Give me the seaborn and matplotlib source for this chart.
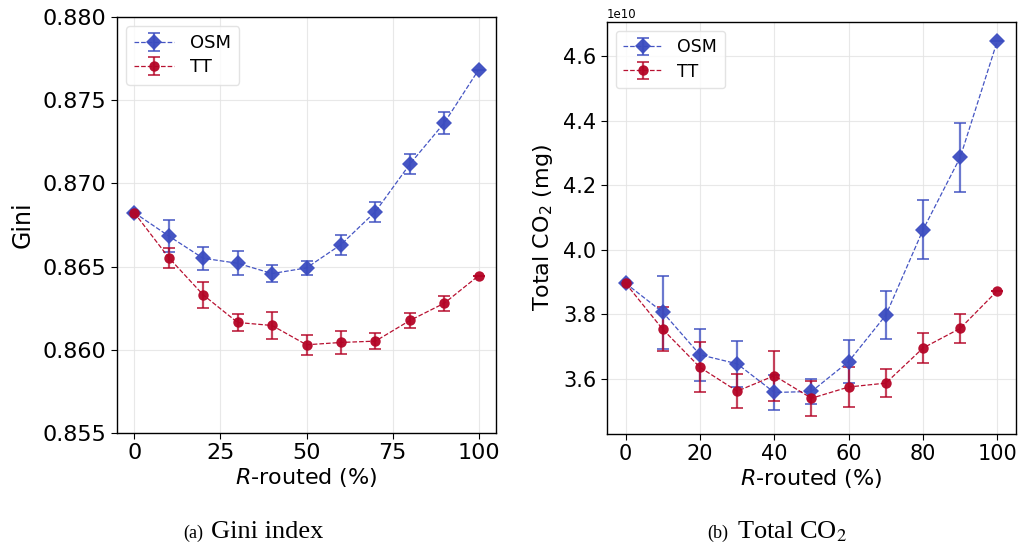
import numpy as np
import pandas as pd
import matplotlib
matplotlib.use("Agg")
import matplotlib.pyplot as plt
import seaborn as sns

# R-routed share (%)
routed = [0, 10, 20, 30, 40, 50, 60, 70, 80, 90, 100]

# Gini index: mean and spread per routing share
gini_osm = [0.86824, 0.86684, 0.86550, 0.86520, 0.86458, 0.86492,
            0.86632, 0.86830, 0.87116, 0.87364, 0.87684]
gini_osm_err = [0.0, 0.00096, 0.00068, 0.00072, 0.00050, 0.00040,
                0.00060, 0.00060, 0.00060, 0.00066, 0.0]
gini_tt = [0.86824, 0.86554, 0.86330, 0.86164, 0.86146, 0.86030,
           0.86044, 0.86052, 0.86176, 0.86280, 0.86446]
gini_tt_err = [0.0, 0.00060, 0.00080, 0.00053, 0.00080, 0.00060,
               0.00070, 0.00047, 0.00046, 0.00046, 0.0]

# Total CO2 emissions (mg)
co2_osm = np.array([3.896, 3.806, 3.674, 3.646, 3.557, 3.560,
                    3.653, 3.797, 4.062, 4.287, 4.649]) * 1e10
co2_osm_err = np.array([0.0, 0.114, 0.081, 0.072, 0.055, 0.040,
                        0.068, 0.074, 0.091, 0.107, 0.0]) * 1e10
co2_tt = np.array([3.896, 3.753, 3.635, 3.561, 3.609, 3.539,
                   3.574, 3.586, 3.695, 3.756, 3.873]) * 1e10
co2_tt_err = np.array([0.0, 0.068, 0.078, 0.052, 0.077, 0.054,
                       0.061, 0.044, 0.047, 0.046, 0.0]) * 1e10

series_names = ["OSM", "TT"]
xticks_gini = [0, 25, 50, 75, 100]
xticks_co2 = [0, 20, 40, 60, 80, 100]

sns.set_style("ticks")
plt.rcParams["font.family"] = ["DejaVu Sans"]
plt.rcParams.update({
    "text.color": "black",
    "axes.labelcolor": "black",
    "xtick.color": "black",
    "ytick.color": "black",
    "axes.edgecolor": "black",
})

colors = {"OSM": "#3b4cc0", "TT": "#b40426"}
markers = {"OSM": "D", "TT": "o"}

fig = plt.figure(figsize=(10.21, 5.46), dpi=100)
ax1 = fig.add_axes([0.1146, 0.2070, 0.3712, 0.7619])
ax2 = fig.add_axes([0.5945, 0.2051, 0.4006, 0.7546])


def draw_panel(ax, data, tick_fs, legend_fs):
    handles = []
    for name in series_names:
        sub = data[data["method"] == name]
        sns.lineplot(data=sub, x="routed", y="value", ax=ax,
                     color=colors[name], marker=markers[name],
                     markersize=8 if name == "OSM" else 7.5,
                     markeredgewidth=0, linestyle="--", linewidth=0.9,
                     alpha=0.95, legend=False, errorbar=None, zorder=3)
        line = ax.lines[-1]
        eb = ax.errorbar(sub["routed"], sub["value"], yerr=sub["err"],
                         fmt="none", ecolor=colors[name], elinewidth=1.6,
                         capsize=4.5, capthick=1.4, alpha=0.75, zorder=2)
        handles.append((eb, line))
    ax.grid(True, color="#e3e3e3", alpha=0.8, linewidth=0.8)
    ax.tick_params(labelsize=tick_fs, length=4, colors="black")
    for s in ax.spines.values():
        s.set_visible(True)
        s.set_linewidth(1.0)
        s.set_color("black")
    leg = ax.legend(handles, series_names, loc="upper left", fontsize=legend_fs,
                    handlelength=2.2, borderpad=0.45, labelspacing=0.35,
                    handletextpad=0.9, framealpha=0.8, edgecolor="#dddddd")
    for t in leg.get_texts():
        t.set_color("black")


gini_df = pd.DataFrame({
    "routed": routed * 2,
    "value": gini_osm + gini_tt,
    "err": gini_osm_err + gini_tt_err,
    "method": ["OSM"] * len(routed) + ["TT"] * len(routed),
})
co2_df = pd.DataFrame({
    "routed": routed * 2,
    "value": np.concatenate([co2_osm, co2_tt]),
    "err": np.concatenate([co2_osm_err, co2_tt_err]),
    "method": ["OSM"] * len(routed) + ["TT"] * len(routed),
})

gini_ticks = [0.855, 0.860, 0.865, 0.870, 0.875, 0.880]

draw_panel(ax1, gini_df, 16, 13)
ax1.set_xlim(-5, 105)
ax1.set_ylim(0.855, 0.880)
ax1.set_xticks(xticks_gini)
ax1.set_yticks(gini_ticks)
ax1.set_yticklabels([f"{v:.3f}" for v in gini_ticks])
ax1.set_xlabel("$R$-routed (%)", fontsize=16, labelpad=2)
ax1.set_ylabel("Gini", fontsize=17, labelpad=6)

draw_panel(ax2, co2_df, 15, 12.5)
ax2.set_xlim(-5, 105)
ax2.set_ylim(3.428e10, 4.707e10)
ax2.set_xticks(xticks_co2)
ax2.set_xlabel("$R$-routed (%)", fontsize=16, labelpad=2)
ax2.set_ylabel("Total CO$_2$ (mg)", fontsize=16, labelpad=6)
ax2.yaxis.get_offset_text().set_fontsize(8.5)
ax2.yaxis.get_offset_text().set_color("black")

# Sub-figure captions
cap_y = 1 - 538 / 546
fig.text(183 / 1021, cap_y, "(a)", family="Liberation Serif", fontsize=13,
         va="baseline", ha="left")
fig.text(211 / 1021, cap_y, "Gini index", family="Liberation Serif",
         fontsize=19, va="baseline", ha="left")
fig.text(707 / 1021, cap_y, "(b)", family="Liberation Serif", fontsize=13,
         va="baseline", ha="left")
fig.text(737 / 1021, cap_y, "Total CO$_2$", family="Liberation Serif",
         math_fontfamily="stix", fontsize=19, va="baseline", ha="left")

fig.savefig("out.png", dpi=100)
